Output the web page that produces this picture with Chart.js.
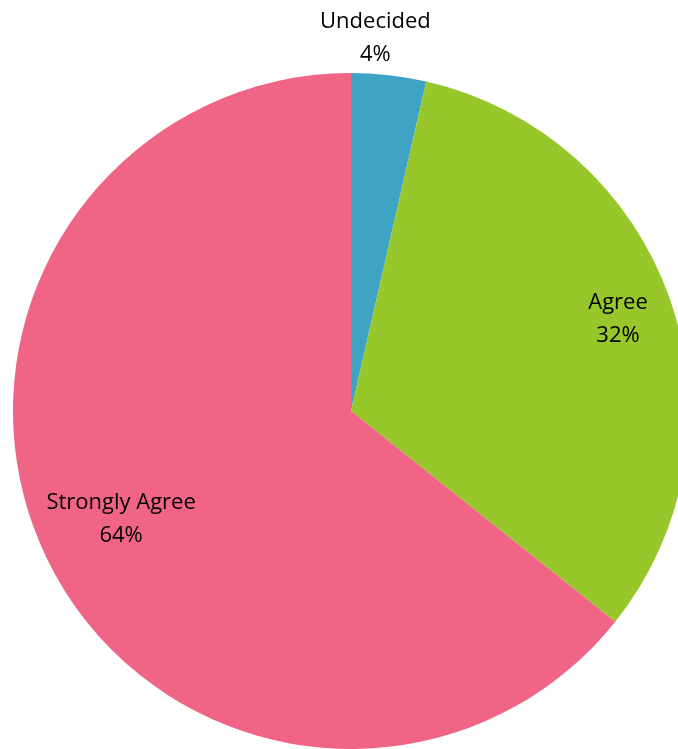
<!DOCTYPE html>
<html>
<head>
<meta charset="utf-8">
<script src="https://cdn.jsdelivr.net/npm/chart.js@4/dist/chart.umd.min.js"></script>
<style>
  html, body { margin: 0; padding: 0; background: #fff; overflow: hidden; }
  #wrap { position: relative; width: 700px; height: 749px; }
</style>
</head>
<body>
<div id="wrap"><canvas id="pie"></canvas></div>
<script>
// survey responses (counts)
const categories = ["Undecided", "Agree", "Strongly Agree"];
const responses = [1, 9, 18];
const sliceColors = ["#3fa3c4", "#97c72a", "#f06585"];

// where each label sits: fraction of radius and angle nudge (degrees)
const labelSpots = [
  { r: 1.11, nudge: -2.7 },
  { r: 0.837, nudge: 0 },
  { r: 0.75, nudge: 0.8 }
];

const total = responses.reduce((a, b) => a + b, 0);

//Draws the category name and percent next to each slice
const sliceLabels = {
  id: "sliceLabels",
  afterDatasetsDraw(chart) {
    const ctx = chart.ctx;
    const arcs = chart.getDatasetMeta(0).data;
    ctx.save();
    ctx.font = "22px 'Open Sans', sans-serif";
    ctx.fillStyle = "#000";
    ctx.textAlign = "center";
    ctx.textBaseline = "middle";
    arcs.forEach((arc, i) => {
      const p = arc.getProps(["x", "y", "startAngle", "endAngle", "outerRadius"], true);
      const mid = (p.startAngle + p.endAngle) / 2 + labelSpots[i].nudge * Math.PI / 180;
      const r = p.outerRadius * labelSpots[i].r;
      const x = p.x + Math.cos(mid) * r;
      const y = p.y + Math.sin(mid) * r;
      const pct = Math.round(responses[i] / total * 100) + "%";
      ctx.fillText(categories[i], x, y - 15);
      ctx.fillText(pct, x, y + 18);
    });
    ctx.restore();
  }
};

let chart = new Chart(document.getElementById("pie"), {
  type: "pie",
  data: {
    labels: categories,
    datasets: [{
      data: responses,
      backgroundColor: sliceColors,
      borderWidth: 0
    }]
  },
  options: {
    responsive: true,
    maintainAspectRatio: false,
    animation: false,
    layout: { padding: { top: 73, bottom: 0, left: 13, right: 11 } },
    plugins: {
      legend: { display: false },
      tooltip: { enabled: false }
    }
  },
  plugins: [sliceLabels]
});
</script>
</body>
</html>
